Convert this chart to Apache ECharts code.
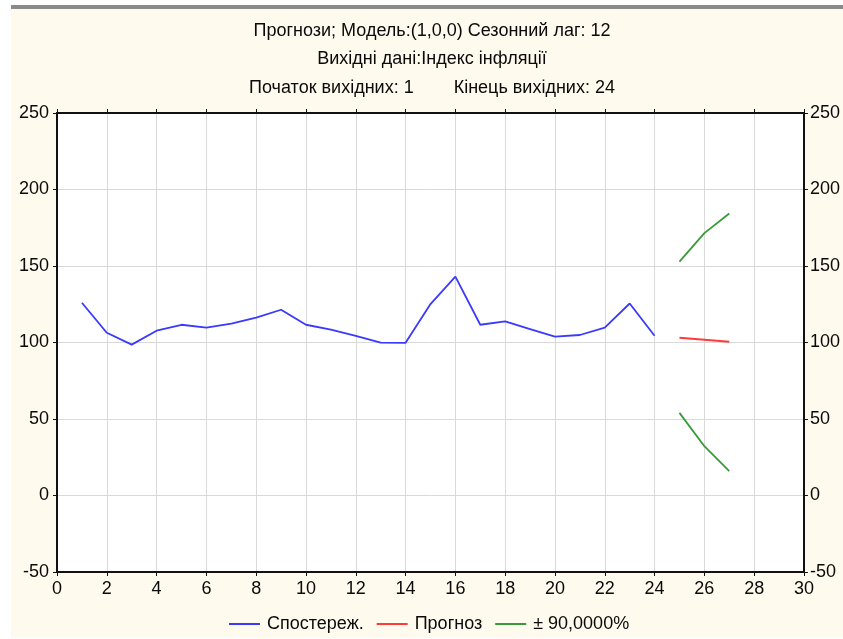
<!DOCTYPE html>
<html>
<head>
<meta charset="utf-8">
<script src="https://cdn.jsdelivr.net/npm/echarts@6/dist/echarts.min.js"></script>
<style>
  html, body { margin: 0; padding: 0; background: #ffffff; }
  #chart { width: 843px; height: 639px; }
</style>
</head>
<body>
<div id="chart"></div>
<script>
// Observed inflation index, periods 1..24
const observedX = [1,2,3,4,5,6,7,8,9,10,11,12,13,14,15,16,17,18,19,20,21,22,23,24];
const observedY = [126,106.4,98.6,107.7,111.6,109.7,112.3,116.2,121.4,111.6,108.4,104.4,99.9,99.8,125.1,143,111.6,113.8,108.8,103.8,104.9,109.7,125.5,104.4];

// Forecast periods 25..27 with 90% bounds
const forecastX = [25,26,27];
const forecastY = [103.1,101.8,100.5];
const upperY = [152.9,171.5,184.3];
const lowerY = [54,32.2,15.9];

const xTicks = { min: 0, max: 30, interval: 2 };
const yTicks = { min: -50, max: 250, interval: 50 };

const titleLines = [
  'Прогнози; Модель:(1,0,0) Сезонний лаг: 12',
  'Вихідні дані:Індекс інфляції',
  'Початок вихідних: 1        Кінець вихідних: 24'
];
const legendNames = ['Спостереж.', 'Прогноз', '± 90,0000%'];

const pairs = (xs, ys) => xs.map((x, i) => [x, ys[i]]);

const font = 'Liberation Sans, Arial, sans-serif';
const axisLabel = { color: '#0a0a0a', fontSize: 18, fontFamily: font };
const axisLine = { show: true, onZero: false, lineStyle: { color: '#111', width: 2 } };
const axisTick = { show: true, length: 4, lineStyle: { color: '#111', width: 1 } };

const chart = echarts.init(document.getElementById('chart'), null, { renderer: 'canvas' });

chart.setOption({
  animation: false,
  backgroundColor: '#ffffff',
  graphic: [
    { type: 'rect', shape: { x: 11, y: 9, width: 832, height: 629 }, style: { fill: '#fffaee' }, z: -10 },
    { type: 'rect', shape: { x: 11, y: 5, width: 832, height: 4 }, style: { fill: '#8a8a8a' }, z: -9 },
    ...titleLines.map((t, i) => ({
      type: 'text', x: 432, y: 31 + i * 28.5,
      style: { text: t, fill: '#0a0a0a', font: '18px ' + font, textAlign: 'center', textVerticalAlign: 'middle' }
    }))
  ],
  grid: { left: 57, right: 35, top: 113, bottom: 67, containLabel: false, show: true, backgroundColor: '#ffffff', borderWidth: 0 },
  legend: {
    top: 610, left: 224, itemWidth: 31, itemHeight: 2, itemGap: 13,
    icon: 'rect',
    textStyle: { fontSize: 18, fontFamily: font, color: '#0a0a0a', padding: [0, 0, 0, 2] },
    data: legendNames
  },
  xAxis: [
    {
      type: 'value', position: 'bottom', min: xTicks.min, max: xTicks.max, interval: xTicks.interval,
      axisLine, axisTick, axisLabel: { ...axisLabel, margin: 8 },
      splitLine: { show: true, lineStyle: { color: '#d9d9d9', width: 1 } }
    },
    {
      type: 'value', position: 'top', min: xTicks.min, max: xTicks.max, interval: xTicks.interval,
      axisLine, axisTick, axisLabel: { show: false }, splitLine: { show: false }
    }
  ],
  yAxis: [
    {
      type: 'value', position: 'left', min: yTicks.min, max: yTicks.max, interval: yTicks.interval,
      axisLine, axisTick, axisLabel: { ...axisLabel, margin: 8 },
      splitLine: { show: true, lineStyle: { color: '#d9d9d9', width: 1 } }
    },
    {
      type: 'value', position: 'right', min: yTicks.min, max: yTicks.max, interval: yTicks.interval,
      axisLine, axisTick, axisLabel: { ...axisLabel, margin: 6 }, splitLine: { show: false }
    }
  ],
  series: [
    {
      name: legendNames[0], type: 'line', data: pairs(observedX, observedY),
      showSymbol: false, lineStyle: { color: '#3a3aff', width: 1.8 }, itemStyle: { color: '#3a3aff' }
    },
    {
      name: legendNames[1], type: 'line', data: pairs(forecastX, forecastY),
      showSymbol: false, lineStyle: { color: '#ff3a3a', width: 1.8 }, itemStyle: { color: '#ff3a3a' }
    },
    {
      name: legendNames[2], type: 'line', data: pairs(forecastX, upperY),
      showSymbol: false, lineStyle: { color: '#3a9a3a', width: 1.8 }, itemStyle: { color: '#3a9a3a' }
    },
    {
      name: legendNames[2], type: 'line', data: pairs(forecastX, lowerY),
      showSymbol: false, lineStyle: { color: '#3a9a3a', width: 1.8 }, itemStyle: { color: '#3a9a3a' }
    }
  ]
});
</script>
</body>
</html>
